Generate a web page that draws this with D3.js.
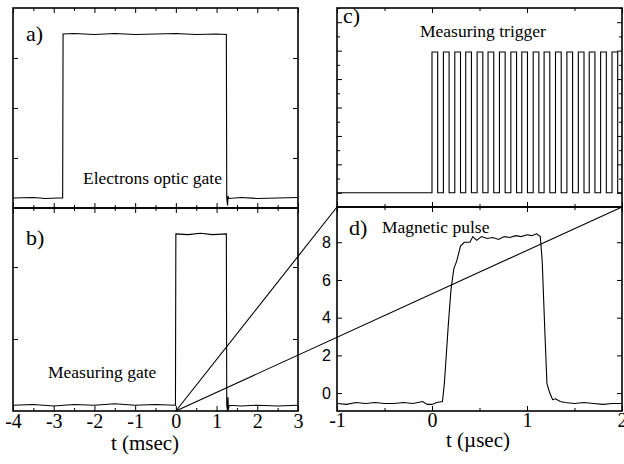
<!DOCTYPE html>
<html>
<head>
<meta charset="utf-8">
<script src="https://cdn.jsdelivr.net/npm/d3@7"></script>
<style>
  body { margin: 0; background: #fff; }
  svg { display: block; }
</style>
</head>
<body>
<svg id="chart"></svg>
<script>
// ---- data ----
// a) electrons optic gate (t in msec, arbitrary units)
const gateA_t = [-4, -3.5, -3.2, -2.9, -2.78, -2.77, -2.5, -2, -1.5, -1, -0.5, 0, 0.5, 1, 1.24, 1.25, 1.27, 1.28, 1.3, 1.6, 2, 2.5, 3];
const gateA_v = [0.2, 0.21, 0.19, 0.2, 0.2, 3.48, 3.49, 3.47, 3.49, 3.47, 3.48, 3.49, 3.47, 3.48, 3.47, 0.2, 0.05, 0.24, 0.19, 0.21, 0.19, 0.2, 0.21];
// b) measuring gate
const gateB_t = [-4, -3.5, -3, -2.5, -2, -1.5, -1, -0.5, -0.01, 0, 0.3, 0.6, 0.9, 1.24, 1.25, 1.27, 1.28, 1.29, 1.31, 1.6, 2, 2.5, 3];
const gateB_v = [0.08, 0.09, 0.07, 0.09, 0.08, 0.1, 0.08, 0.09, 0.08, 2.46, 2.45, 2.47, 2.45, 2.46, 0.08, 0.0, 0.19, 0.02, 0.08, 0.07, 0.08, 0.07, 0.08];
// c) measuring trigger: pulse rise times (usec), pulse width, levels
const triggerRise = [0.0, 0.12, 0.24, 0.355, 0.475, 0.59, 0.71, 0.83, 0.945, 1.065, 1.18, 1.30, 1.42, 1.54, 1.655, 1.775, 1.895];
const triggerWidth = 0.06;
const triggerLow = 0, triggerHigh = 4.95;
// d) magnetic pulse (usec)
const pulse_t = [-1, -0.9, -0.8, -0.7, -0.6, -0.5, -0.4, -0.3, -0.2, -0.1, -0.05, 0, 0.05, 0.11, 0.13, 0.17, 0.2, 0.23, 0.26, 0.3, 0.34, 0.4, 0.43, 0.47, 0.52, 0.58, 0.64, 0.7, 0.76, 0.82, 0.88, 0.94, 1.0, 1.05, 1.1, 1.14, 1.16, 1.19, 1.21, 1.24, 1.27, 1.3, 1.35, 1.4, 1.5, 1.6, 1.7, 1.8, 1.9, 2];
const pulse_v = [-0.55, -0.6, -0.5, -0.55, -0.5, -0.55, -0.55, -0.5, -0.55, -0.45, -0.6, -0.6, -0.5, -0.45, 0.5, 3.5, 5.5, 6.6, 7.0, 7.8, 8.0, 8.0, 8.3, 8.1, 8.3, 8.2, 8.25, 8.15, 8.3, 8.25, 8.35, 8.3, 8.4, 8.35, 8.45, 8.3, 7.0, 3.0, 0.5, 0.0, -0.35, -0.3, -0.45, -0.5, -0.55, -0.5, -0.55, -0.6, -0.55, -0.55];

const msecTicks = [-4, -3, -2, -1, 0, 1, 2, 3];
const usecTicks = [-1, 0, 1, 2];
const fieldTicks = [0, 2, 4, 6, 8];

// ---- layout ----
const W = 624, H = 464;
const svg = d3.select('#chart').attr('width', W).attr('height', H);

const xL = d3.scaleLinear().domain([-4, 3]).range([13, 298]);
const xR = d3.scaleLinear().domain([-1, 2]).range([337, 622]);
const yA = d3.scaleLinear().domain([0, 4]).range([208, 8]);
const yB = d3.scaleLinear().domain([0, 2.82]).range([411, 208]);
const yC = d3.scaleLinear().domain([-0.5, 6.5]).range([207, 8]);
const yD = d3.scaleLinear().domain([-0.95, 9.87]).range([411, 207]);

const SERIF = 'Liberation Serif';
const SANS = 'Liberation Sans';

function halfSteps(lo, hi, step) {
  const out = [];
  for (let v = lo; v <= hi + 1e-9; v += step) out.push(+v.toFixed(3));
  return out;
}

// ticks pointing into the plot, no domain line
function inTicks(g, axis, values, size) {
  g.call(axis.tickValues(values).tickSize(-size).tickSizeOuter(0).tickFormat(''));
  g.select('.domain').remove();
  g.selectAll('line').attr('stroke', '#000').attr('stroke-width', 1);
}

function panel(x, y, opts) {
  const [x0, x1] = x.range();
  const [y1, y0] = y.range();
  const g = svg.append('g');
  // x ticks, bottom and top
  inTicks(g.append('g').attr('transform', `translate(0,${y1})`), d3.axisBottom(x), opts.xMajor, 5);
  inTicks(g.append('g').attr('transform', `translate(0,${y1})`), d3.axisBottom(x), opts.xMinor, 3);
  inTicks(g.append('g').attr('transform', `translate(0,${y0})`), d3.axisTop(x), opts.xMajor, 5);
  inTicks(g.append('g').attr('transform', `translate(0,${y0})`), d3.axisTop(x), opts.xMinor, 3);
  // y ticks, left and right
  inTicks(g.append('g').attr('transform', `translate(${x0},0)`), d3.axisLeft(y), opts.yMajor, 5);
  inTicks(g.append('g').attr('transform', `translate(${x1},0)`), d3.axisRight(y), opts.yMajor, 5);
  if (opts.yMinor) {
    inTicks(g.append('g').attr('transform', `translate(${x0},0)`), d3.axisLeft(y), opts.yMinor, 3);
    inTicks(g.append('g').attr('transform', `translate(${x1},0)`), d3.axisRight(y), opts.yMinor, 3);
  }
  g.append('rect')
    .attr('x', x0).attr('y', y0)
    .attr('width', x1 - x0).attr('height', y1 - y0)
    .attr('fill', 'none').attr('stroke', '#000').attr('stroke-width', 1.6);
  return g;
}

function trace(x, y, ts, vs) {
  svg.append('path')
    .datum(ts.map((t, i) => [t, vs[i]]))
    .attr('fill', 'none')
    .attr('stroke', '#000')
    .attr('stroke-width', 1.1)
    .attr('d', d3.line().x(d => x(d[0])).y(d => y(d[1])));
}

function label(x, y, txt, size) {
  svg.append('text')
    .attr('font-family', SERIF)
    .attr('x', x).attr('y', y)
    .attr('font-size', size)
    .text(txt);
}

// ---- panels ----
panel(xL, yA, { xMajor: msecTicks, xMinor: halfSteps(-3.5, 2.5, 1), yMajor: [1, 2, 3] });
panel(xL, yB, { xMajor: msecTicks, xMinor: halfSteps(-3.5, 2.5, 1), yMajor: [1, 2] });
panel(xR, yC, { xMajor: usecTicks, xMinor: halfSteps(-0.5, 1.5, 1), yMajor: [0, 1, 2, 3, 4, 5, 6], yMinor: halfSteps(-0.5, 6.5, 1) });
panel(xR, yD, { xMajor: usecTicks, xMinor: halfSteps(-0.5, 1.5, 1), yMajor: fieldTicks });

// traces
trace(xL, yA, gateA_t, gateA_v);
trace(xL, yB, gateB_t, gateB_v);
trace(xR, yD, pulse_t, pulse_v);

// trigger train built from the rise times
const trig = [[-1, triggerLow]];
triggerRise.forEach(t => {
  const t2 = Math.min(t + triggerWidth, 2);
  trig.push([t, triggerLow], [t, triggerHigh], [t2, triggerHigh], [t2, triggerLow]);
});
trig.push([2, triggerLow]);
trace(xR, yC, trig.map(d => d[0]), trig.map(d => d[1]));

// ---- axis labels ----
function tickLabels(g, family, size) {
  g.select('.domain').remove();
  g.attr('font-family', family).attr('font-size', size);
  g.selectAll('text').attr('fill', '#000');
}

tickLabels(svg.append('g')
  .attr('transform', `translate(0,${yB.range()[0]})`)
  .call(d3.axisBottom(xL).tickValues(msecTicks).tickSize(0).tickPadding(3).tickFormat(d => String(d))), SERIF, 20);

tickLabels(svg.append('g')
  .attr('transform', `translate(0,${yD.range()[0]})`)
  .call(d3.axisBottom(xR).tickValues(usecTicks).tickSize(0).tickPadding(2).tickFormat(d => String(d))), SERIF, 20);

tickLabels(svg.append('g')
  .attr('transform', `translate(${xR.range()[0]},0)`)
  .call(d3.axisLeft(yD).tickValues(fieldTicks).tickSize(0).tickPadding(6).tickFormat(d => String(d))), SANS, 16);

svg.append('text').attr('font-family', SERIF).attr('x', 145).attr('y', 450).attr('text-anchor', 'middle')
  .attr('font-size', 21).text('t (msec)');
svg.append('text').attr('font-family', SERIF).attr('x', 478).attr('y', 447).attr('text-anchor', 'middle')
  .attr('font-size', 21).text('t (\u00b5sec)');

// panel letters and captions
label(26, 41, 'a)', 22);
label(26, 245, 'b)', 22);
label(343, 23, 'c)', 22);
label(349, 235, 'd)', 22);
label(83, 184, 'Electrons optic gate', 17.5);
label(48, 378, 'Measuring gate', 17.5);
label(420, 37, 'Measuring trigger', 17.5);
label(382, 233, 'Magnetic pulse', 17.5);

// zoom lines from t=0 of panel b) to the corners of panel d)
const origin = [xL(0), yB.range()[0]];
[xR.range()[0], xR.range()[1]].forEach(xe => {
  svg.append('line')
    .attr('x1', origin[0]).attr('y1', origin[1])
    .attr('x2', xe).attr('y2', yD.range()[1])
    .attr('stroke', '#000').attr('stroke-width', 1.1);
});
</script>
</body>
</html>
